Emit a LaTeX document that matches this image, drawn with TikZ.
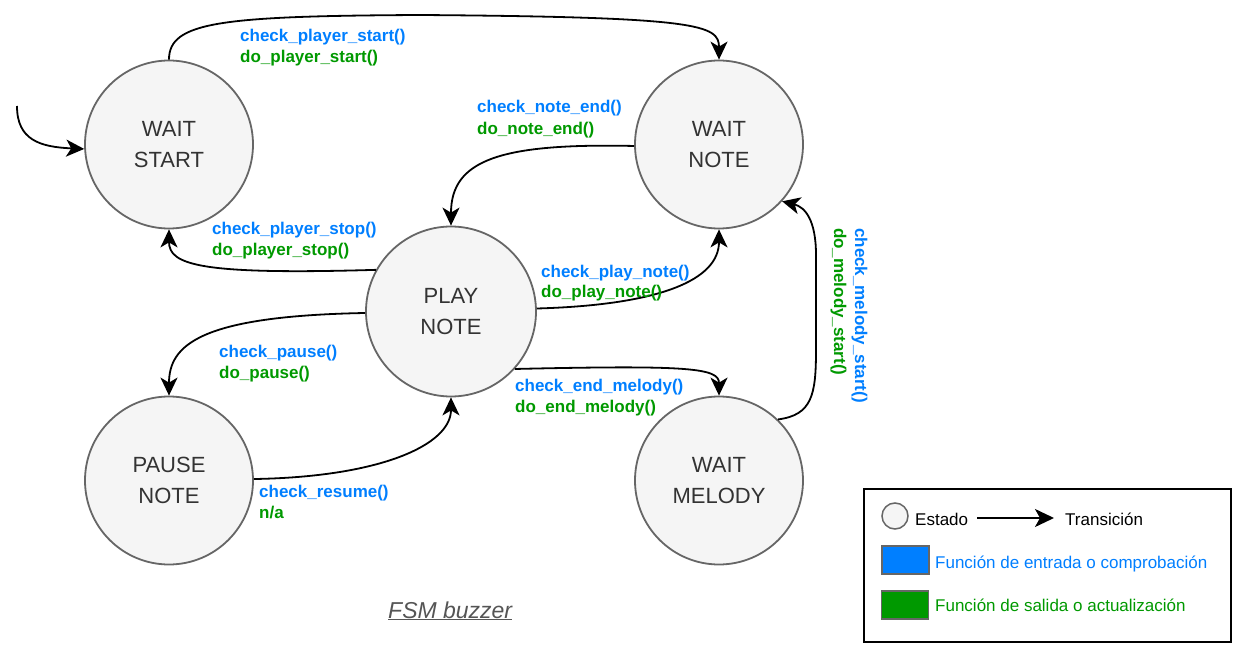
\documentclass[tikz,border=0pt]{standalone}
\usepackage{fontspec}
\setmainfont{Liberation Sans}
\usetikzlibrary{arrows.meta}
\definecolor{cblue}{HTML}{007FFF}
\definecolor{cgreen}{HTML}{009900}
\definecolor{sfill}{HTML}{F5F5F5}
\definecolor{sdraw}{HTML}{666666}
\definecolor{stext}{HTML}{333333}
\definecolor{ttl}{HTML}{555555}
\begin{document}
\begin{tikzpicture}[x=1pt,y=-1pt,
  state/.style={circle, draw=sdraw, fill=sfill, line width=1.8pt, minimum size=168pt, inner sep=0pt, align=center, text=stext, font=\fontsize{22}{31.5}\selectfont},
  edge/.style={line width=1.8pt, -{Stealth[length=18pt,width=17pt,inset=5pt]}},
  chk/.style={anchor=base west, inner sep=0pt, text=cblue, font=\fontsize{17}{21}\selectfont\bfseries},
  dof/.style={chk, text=cgreen},
  lgtxt/.style={anchor=base west, inner sep=0pt, font=\fontsize{17}{21}\selectfont},
  lgbox/.style={draw=sdraw, line width=1.5pt, minimum width=47pt, minimum height=28pt, inner sep=0pt}
  ]
\fill[white] (0,0) rectangle (1243,647);
\useasboundingbox (0,0) rectangle (1243,647);

% states
\node[state] (ws) at (169,144.5) {WAIT\\START};
\node[state] (wn) at (719,144.5) {WAIT\\NOTE};
\node[state, minimum size=170pt] (pn) at (451,311.5) {PLAY\\NOTE};
\node[state] (pa) at (169,480.5) {PAUSE\\NOTE};
\node[state] (wm) at (719,480.5) {WAIT\\MELODY};

% initial
\coordinate (init) at (17,106);
\draw[edge] (init) .. controls (17,140) and (40,147) .. (ws.183);

% transitions
\draw[edge] (ws.north) .. controls (169,22) and (220,16) .. (420,15) .. controls (700,17) and (719,25) .. (wn.north);
\draw[edge] (wn.181) .. controls (500,143) and (451,160) .. (pn.north);
\draw[edge] (pn.151) .. controls (200,275) and (169,265) .. (ws.south);
\draw[edge] (pn.2) .. controls (660,305) and (719,280) .. (wn.south);
\draw[edge] (pn.181) .. controls (200,316) and (169,345) .. (pa.north);
\draw[edge] (pn.-42) .. controls (690,365) and (719,368) .. (wm.north);
\draw[edge] (pa.1) .. controls (380,477) and (451,445) .. (pn.south);
\draw[edge] (wm.46) .. controls (812,415) and (816,395) .. (816,350) -- (816,255) .. controls (816,220) and (805,207) .. (wn.-42);

% labels
\node[chk] (l1a) at (240,42) {check\_player\_start()};
\node[dof] (l1b) at (240,63) {do\_player\_start()};
\node[chk] (l2a) at (477,113) {check\_note\_end()};
\node[dof] (l2b) at (477,135) {do\_note\_end()};
\node[chk] (l3a) at (212,235) {check\_player\_stop()};
\node[dof] (l3b) at (212,256) {do\_player\_stop()};
\node[chk] (l4a) at (541,277) {check\_play\_note()};
\node[dof] (l4b) at (541,298) {do\_play\_note()};
\node[chk] (l5a) at (219,357) {check\_pause()};
\node[dof] (l5b) at (219,378) {do\_pause()};
\node[chk] (l6a) at (515,391) {check\_end\_melody()};
\node[dof] (l6b) at (515,412) {do\_end\_melody()};
\node[chk] (l7a) at (259,497) {check\_resume()};
\node[dof] (l7b) at (259,518) {n/a};
\node[chk, rotate=-90] (l8a) at (855,228) {check\_melody\_start()};
\node[dof, rotate=-90] (l8b) at (834,228) {do\_melody\_start()};

% title
\node[anchor=base west, inner sep=0pt, text=ttl, font=\fontsize{23}{28}\selectfont\itshape] (title) at (388,618) {\underline{FSM buzzer}};

% legend
\node[draw=black, line width=2pt, minimum width=367pt, minimum height=153pt, inner sep=0pt] (legend) at (1047.5,565.5) {};
\node[circle, draw=sdraw, fill=sfill, line width=1.5pt, minimum size=26pt, inner sep=0pt] (lgc) at (895,516) {};
\node[lgtxt] (lgest) at (915,525) {Estado};
\coordinate (lgA) at (977,518);
\coordinate (lgB) at (1054,518);
\draw[line width=2pt, -{Stealth[length=19pt,width=18pt,inset=5pt]}] (lgA) -- (lgB);
\node[lgtxt] (lgtr) at (1065,525) {Transición};
\node[lgbox, fill=cblue] (lgb) at (905.5,560) {};
\node[lgbox, fill=cgreen] (lgg) at (905,605) {};
\node[lgtxt, text=cblue] (lgbt) at (935,568) {Función de entrada o comprobación};
\node[lgtxt, text=cgreen] (lggt) at (935,611) {Función de salida o actualización};
\end{tikzpicture}
\end{document}
